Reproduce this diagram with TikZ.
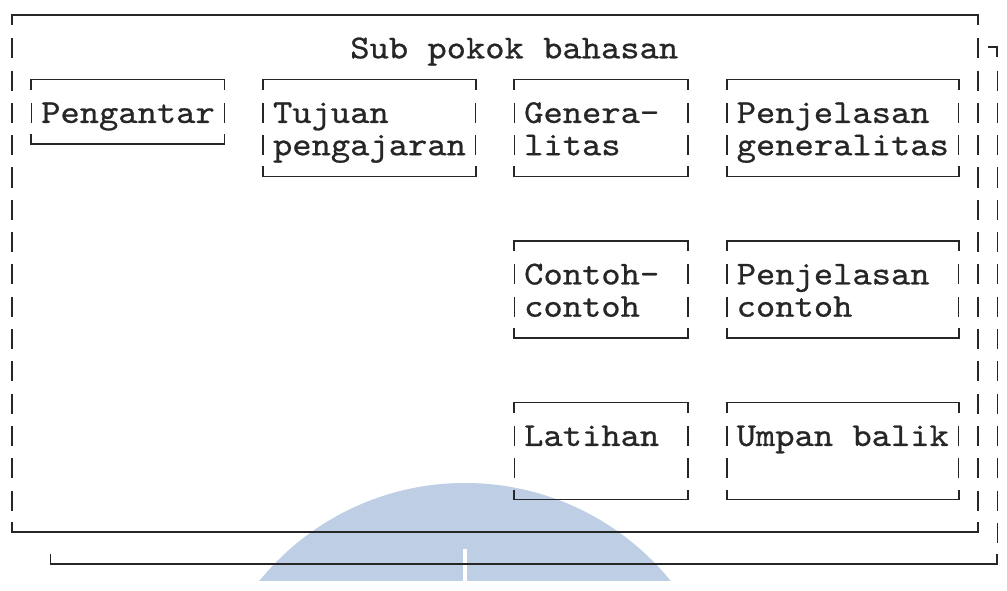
\documentclass[tikz,border=0pt]{standalone}
\usepackage{fontspec}
\newfontfamily\tw{lmmono10-regular.otf}[FakeStretch=1.1, FakeBold=0.7]
\definecolor{ink}{HTML}{262626}
\definecolor{wm}{RGB}{190,206,228}
\tikzset{
  ln/.style={draw=ink,line width=1.7pt,line cap=butt,line join=miter},
  bar/.style={draw=ink,line width=1.6pt},
  lbl/.style={inner sep=0pt,anchor=base west,text=ink,font=\tw\fontsize{33.4}{32.3}\selectfont},
  wmark/.style={fill=wm,draw=none}
}
\newcommand\cx[1]{12+19.32*(#1)}
\newcommand\tx[1]{2.34+19.32*(#1)}
\newcommand\ly[1]{15+32.3*(#1)}
\newcommand\two[2]{\vtop{\baselineskip=32.3pt\hbox{#1}\hbox{#2}}}
\newcommand\tframe[4]{%
  \draw[ln] ({\cx{#1}},{\ly{#3}+10}) -- ({\cx{#1}},{\ly{#3}}) -- ({\cx{#2}},{\ly{#3}}) -- ({\cx{#2}},{\ly{#3}+10});
  \draw[ln] ({\cx{#1}},{\ly{#4}-10}) -- ({\cx{#1}},{\ly{#4}}) -- ({\cx{#2}},{\ly{#4}}) -- ({\cx{#2}},{\ly{#4}-10});
  \pgfmathtruncatemacro\ka{#3+1}\pgfmathtruncatemacro\kb{#4-1}%
  \foreach \k in {\ka,...,\kb}{%
    \draw[bar] ({\cx{#1}},{\ly{\k}-9}) -- ({\cx{#1}},{\ly{\k}+11});
    \draw[bar] ({\cx{#2}},{\ly{\k}-9}) -- ({\cx{#2}},{\ly{\k}+11});
  }%
}
\begin{document}
\begin{tikzpicture}[x=1pt,y=-1pt]
\useasboundingbox[fill=white] (0,0) rectangle (1007,591);
% watermark
\begin{scope}
  \clip (0,483) rectangle (1007,580);
  \fill[wmark] (465,748) circle[radius=265pt];
\end{scope}
\fill[white] (463,549) rectangle (466.5,581);
% outer frame
\tframe{0}{50}{0}{16}
% shadow frame
\draw[ln] (988,{\ly{1}}) -- ({\cx{51}},{\ly{1}}) -- ({\cx{51}},{\ly{1}+10});
\foreach \k in {2,...,16}{\draw[bar] ({\cx{51}},{\ly{\k}-9}) -- ({\cx{51}},{\ly{\k}+11});}
\draw[ln] ({\cx{2}},{\ly{17}-10}) -- ({\cx{2}},{\ly{17}}) -- ({\cx{51}},{\ly{17}}) -- ({\cx{51}},{\ly{17}-10});
% inner frames
\tframe{1}{11}{2}{4}
\tframe{13}{24}{2}{5}
\tframe{26}{35}{2}{5}
\tframe{37}{49}{2}{5}
\tframe{26}{35}{7}{10}
\tframe{37}{49}{7}{10}
\tframe{26}{35}{12}{15}
\tframe{37}{49}{12}{15}
% labels
\node[lbl] (title) at ({\tx{18}},{\ly{1}+11}) {Sub pokok bahasan};
\node[lbl] (peng) at ({\tx{2}},{\ly{3}+11}) {Pengantar};
\node[lbl] (tuj) at ({\tx{14}},{\ly{3}+11}) {\two{Tujuan}{pengajaran}};
\node[lbl] (gen) at ({\tx{27}},{\ly{3}+11}) {\two{Genera-}{litas}};
\node[lbl] (pjg) at ({\tx{38}},{\ly{3}+11}) {\two{Penjelasan}{generalitas}};
\node[lbl] (con) at ({\tx{27}},{\ly{8}+11}) {\two{Contoh-}{contoh}};
\node[lbl] (pjc) at ({\tx{38}},{\ly{8}+11}) {\two{Penjelasan}{contoh}};
\node[lbl] (lat) at ({\tx{27}},{\ly{13}+11}) {Latihan};
\node[lbl] (umb) at ({\tx{38}},{\ly{13}+11}) {Umpan balik};
\end{tikzpicture}
\end{document}
